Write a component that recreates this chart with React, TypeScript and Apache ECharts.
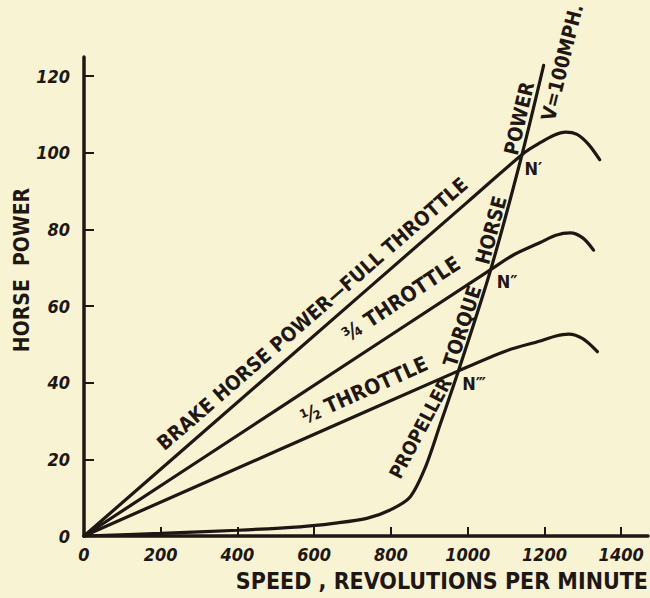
import React, { useEffect, useRef } from "react";
import * as echarts from "echarts";

const xTicks = [0, 200, 400, 600, 800, 1000, 1200, 1400];
const yTicks = [0, 20, 40, 60, 80, 100, 120];

const fullThrottle = [
  [0, 0], [500, 43.6], [1000, 87.2], [1150, 100.2], [1190, 102.7], [1225, 104.6],
  [1255, 105.4], [1285, 104.8], [1315, 102.2], [1344, 98.2],
];
const threeQuarterThrottle = [
  [0, 0], [500, 32.8], [1060, 69.5], [1120, 73.4], [1189, 76.6], [1230, 78.5],
  [1267, 79.1], [1300, 77.8], [1328, 74.6],
];
const halfThrottle = [
  [0, 0], [500, 22.1], [976, 43.1], [1100, 48.3], [1189, 50.9], [1230, 52.2],
  [1263, 52.7], [1300, 51.5], [1338, 48.1],
];
const propeller = [
  [0, 0], [200, 0.7], [400, 1.5], [563, 2.4], [650, 3.3], [737, 4.6], [798, 6.8],
  [850, 10.2], [890, 18], [930, 29.6], [976, 43.1], [1060, 69.5], [1141, 99.3], [1198, 122.8],
];

// annotation text anchored in data coordinates: [rpm, hp], rotation in degrees
const annotations = [
  { text: "BRAKE HORSE POWER—FULL THROTTLE", at: [595, 58], rot: 41, size: 20 },
  { text: "¾ THROTTLE", at: [827, 61.8], rot: 33.5, size: 21 },
  { text: "½ THROTTLE", at: [730, 38.1], rot: 24, size: 21 },
  { text: "PROPELLER", at: [876, 28.2], rot: 62, size: 19 },
  { text: "TORQUE", at: [986, 54.8], rot: 72, size: 20 },
  { text: "HORSE", at: [1061, 79.8], rot: 75, size: 20 },
  { text: "POWER", at: [1134, 109], rot: 77, size: 20 },
  { text: "V=100MPH.", at: [1246, 123.6], rot: 76, size: 20 },
  { text: "N′", at: [1171, 96], rot: 0, size: 18 },
  { text: "N″", at: [1103, 66.5], rot: 0, size: 18 },
  { text: "N‴", at: [1017, 39.9], rot: 0, size: 18 },
];

const INK = "#1f1713";
const BG = "#f8f4d3";
const FONT = "'DejaVu Sans Condensed', 'DejaVu Sans', sans-serif";

export default function App() {
  const ref = useRef<HTMLDivElement>(null);
  useEffect(() => {
    document.body.style.margin = "0";
    document.body.style.background = BG;
    const chart = echarts.init(ref.current!, undefined, { renderer: "svg" });
    const line = (name: string, data: number[][]) => ({
      name,
      type: "line",
      data,
      smooth: 0.3,
      showSymbol: false,
      lineStyle: { color: INK, width: 3.2, cap: "round" },
      z: 3,
    });
    const tickLabel = {
      color: INK,
      fontSize: 18,
      fontStyle: "italic",
      fontWeight: "bold",
      fontFamily: FONT,
      formatter: (v: number) => String(v),
    };
    chart.setOption({
      animation: false,
      backgroundColor: BG,
      grid: { left: 84, right: 2, top: 57, bottom: 62, outerBoundsMode: "none", containLabel: false },
      xAxis: {
        type: "value",
        min: 0,
        max: 1470,
        axisLine: { show: true, lineStyle: { color: INK, width: 3.5 } },
        axisTick: { show: true, inside: true, length: 9, customValues: xTicks, lineStyle: { color: INK, width: 2 } },
        axisLabel: { ...tickLabel, customValues: xTicks, margin: 9 },
        splitLine: { show: false },
      },
      yAxis: {
        type: "value",
        min: 0,
        max: 125,
        axisLine: { show: true, lineStyle: { color: INK, width: 3.5 } },
        axisTick: { show: true, inside: true, length: 10, customValues: yTicks, lineStyle: { color: INK, width: 2 } },
        axisLabel: { ...tickLabel, customValues: yTicks, margin: 14 },
        splitLine: { show: false },
      },
      series: [
        line("Full throttle", fullThrottle),
        line("3/4 throttle", threeQuarterThrottle),
        line("1/2 throttle", halfThrottle),
        line("Propeller torque horse power", propeller),
      ],
    });
    const graphics: any[] = annotations.map((a) => {
      const p = chart.convertToPixel({ gridIndex: 0 }, a.at) as number[];
      return {
        type: "text",
        x: p[0],
        y: p[1],
        rotation: (a.rot * Math.PI) / 180,
        z: 10,
        style: {
          text: a.text,
          fill: INK,
          fontSize: a.size,
          fontWeight: "bold",
          fontFamily: FONT,
          align: "center",
          verticalAlign: "middle",
        },
      };
    });
    graphics.push({
      type: "text",
      x: 22,
      y: 270,
      rotation: Math.PI / 2,
      z: 10,
      style: {
        text: "HORSE  POWER",
        fill: INK,
        fontSize: 21,
        fontWeight: "bold",
        fontFamily: FONT,
        align: "center",
        verticalAlign: "middle",
      },
    });
    graphics.push({
      type: "text",
      right: 2,
      top: 569,
      z: 10,
      style: {
        text: "SPEED , REVOLUTIONS PER MINUTE",
        fill: INK,
        fontSize: 23,
        fontWeight: "bold",
        fontFamily: FONT,
      },
    });
    chart.setOption({ graphic: graphics });
    return () => chart.dispose();
  }, []);
  return (
    <div
      ref={ref}
      style={{ position: "fixed", left: 0, top: 0, width: 650, height: 598 }}
    />
  );
}
